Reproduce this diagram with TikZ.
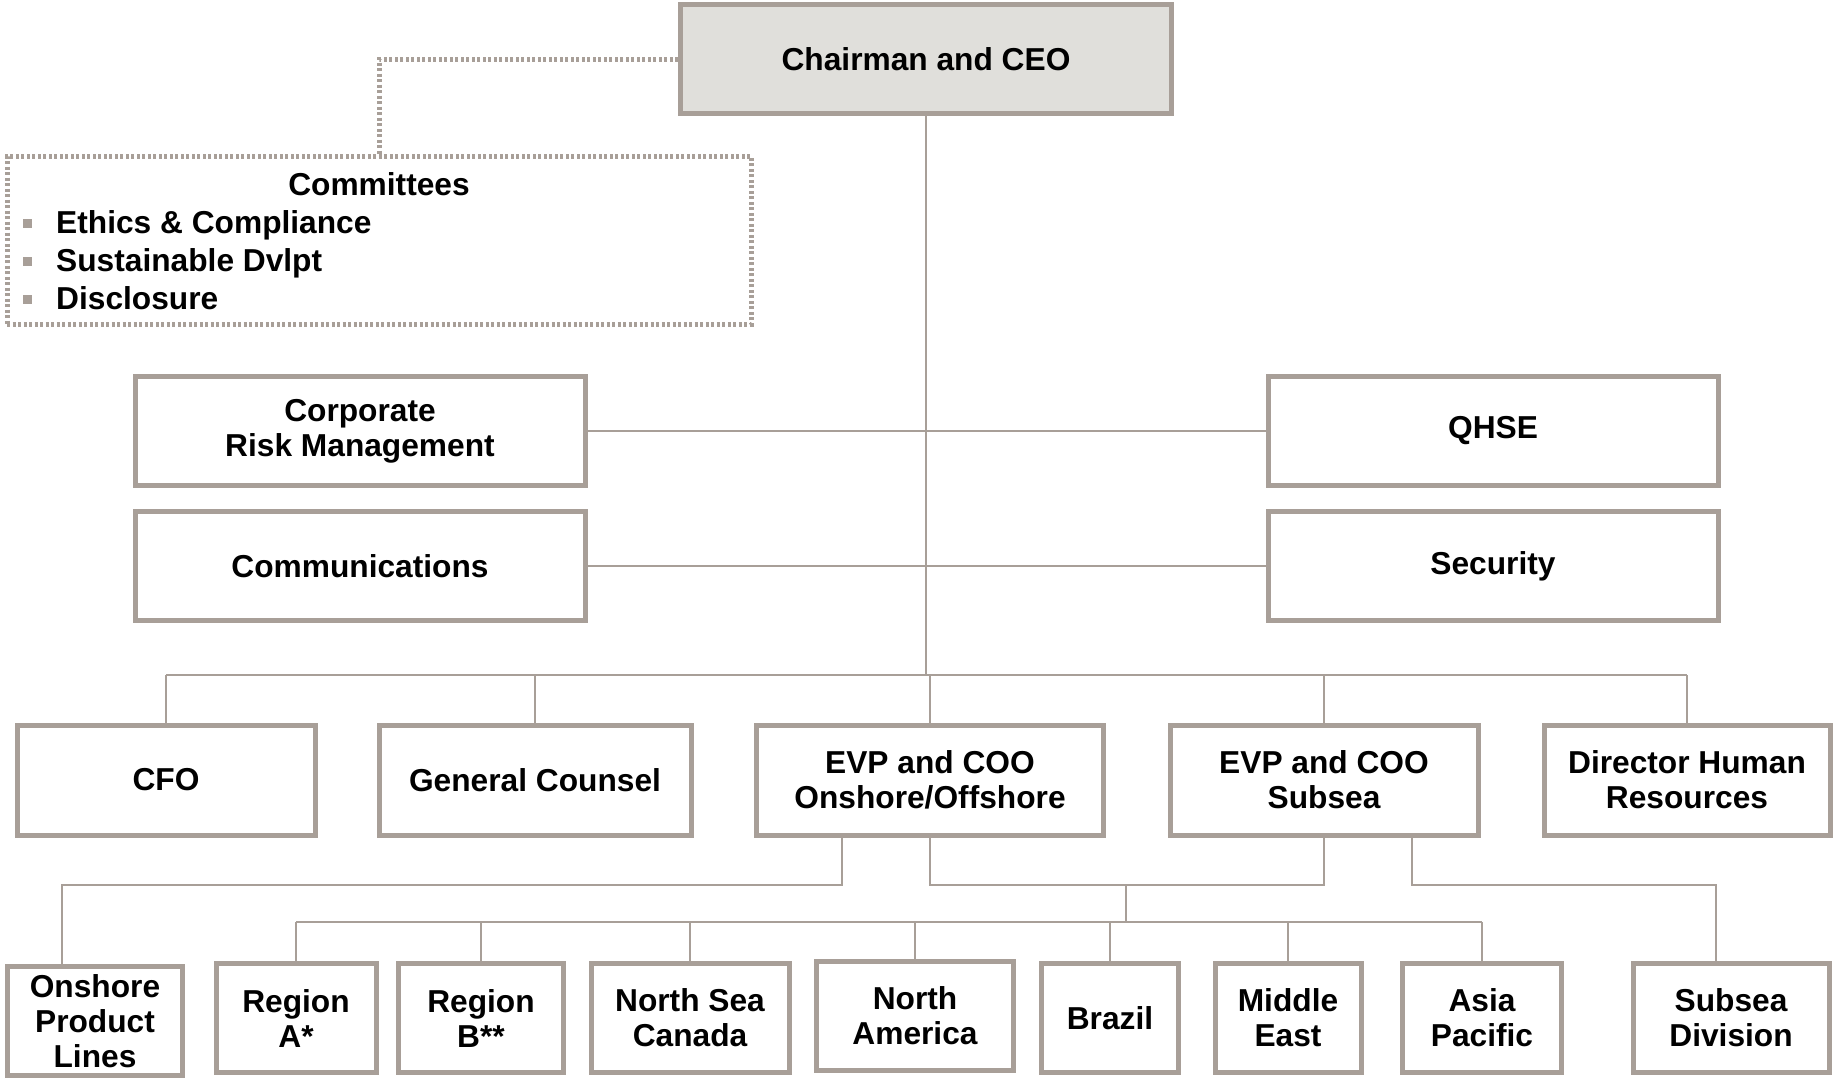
\documentclass[tikz,border=0pt]{standalone}
\usepackage{fontspec}
\setmainfont{Liberation Sans}
\usepackage{tikz}
\usetikzlibrary{calc}

\definecolor{boxgray}{RGB}{168,159,152}
\definecolor{ceofill}{RGB}{224,223,219}
\newcommand{\orgfont}{\fontsize{31.7}{35}\selectfont\bfseries}
\newcommand{\itemsq}{\textcolor{boxgray}{\rule[6pt]{9pt}{9pt}}}

\begin{document}
\begin{tikzpicture}[x=1pt,y=1pt,
		orgbox/.style={draw=boxgray,line width=5pt,fill=white,align=center,font=\orgfont,inner sep=0pt},
		link/.style={draw=boxgray,line width=2.5pt},
		dotlink/.style={draw=boxgray,line width=5pt,dash pattern=on 3pt off 2.5pt}]
				\useasboundingbox (0,0) rectangle (1833,-1080);
				% top
				\node[orgbox,fill=ceofill,minimum width=491,minimum height=109] (ceo) at (926,-59) {Chairman and CEO};
				\node[dotlink,minimum width=744,minimum height=168] (comm) at (379,-240) {};
				\node[font=\orgfont,inner sep=0pt,anchor=base] (commt) at (379,-195) {Committees};
				\node[font=\orgfont,inner sep=0pt,anchor=base west] (c1) at (23,-233.5) {\itemsq\hspace{24pt}Ethics \& Compliance};
				\node[font=\orgfont,inner sep=0pt,anchor=base west] (c2) at (23,-271.5) {\itemsq\hspace{24pt}Sustainable Dvlpt};
				\node[font=\orgfont,inner sep=0pt,anchor=base west] (c3) at (23,-309.5) {\itemsq\hspace{24pt}Disclosure};
				
				% staff
				\node[orgbox,minimum width=450,minimum height=109] (crm) at (360,-431) {Corporate\\Risk Management};
				\node[orgbox,minimum width=450,minimum height=109] (qhse) at (1493,-431) {QHSE};
				\node[orgbox,minimum width=450,minimum height=109] (cmm) at (360,-566) {Communications};
				\node[orgbox,minimum width=450,minimum height=109] (sec) at (1493,-566) {Security};
				
				% second row
				\node[orgbox,minimum width=298,minimum height=110] (cfo) at (166,-780) {CFO};
				\node[orgbox,minimum width=312,minimum height=110] (gc) at (535,-780) {General Counsel};
				\node[orgbox,minimum width=347,minimum height=110] (evp1) at (930,-780) {EVP and COO\\Onshore/Offshore};
				\node[orgbox,minimum width=308,minimum height=110] (evp2) at (1324,-780) {EVP and COO\\Subsea};
				\node[orgbox,minimum width=286,minimum height=110] (dhr) at (1687,-780) {Director Human\\Resources};
				
				% third row
				\node[orgbox,minimum width=175,minimum height=109] (opl) at (95,-1021) {Onshore\\Product\\Lines};
				\node[orgbox,minimum width=160,minimum height=109] (rega) at (296,-1018) {Region\\A*};
				\node[orgbox,minimum width=165,minimum height=109] (regb) at (481,-1018) {Region\\B**};
				\node[orgbox,minimum width=198,minimum height=109] (nsc) at (690,-1018) {North Sea\\Canada};
				\node[orgbox,minimum width=197,minimum height=109] (nam) at (915,-1016) {North\\America};
				\node[orgbox,minimum width=137,minimum height=109] (bra) at (1110,-1018) {Brazil};
				\node[orgbox,minimum width=146,minimum height=109] (mide) at (1288,-1018) {Middle\\East};
				\node[orgbox,minimum width=159,minimum height=109] (asia) at (1482,-1018) {Asia\\Pacific};
				\node[orgbox,minimum width=196,minimum height=109] (subd) at (1731,-1018) {Subsea\\Division};
				
				\coordinate (bus) at (0,-675);
				\coordinate (lk1) at (842,-885);
				\coordinate (lk2) at (62,-885);
				\coordinate (lk3) at (1412,-885);
				\coordinate (lk4) at (1716,-885);
				\coordinate (rmid) at (1126,-885);
				\coordinate (rbus) at (1126,-922);
				
				\draw[dotlink] (ceo.west) -| (comm.north);
				\draw[link] (ceo.south) -- (ceo.south |- bus);
				\draw[link] (crm.east) -- (qhse.west);
				\draw[link] (cmm.east) -- (sec.west);
				\draw[link] (cfo.north |- bus) -- (dhr.north |- bus);
				\foreach \n in {cfo,gc,evp1,evp2,dhr}
					\draw[link] (\n.north) -- (\n.north |- bus);
				\draw[link] (evp1.south -| lk1) -- (lk1) -- (lk2) -- (opl.north -| lk2);
				\draw[link] (evp1.south) |- (evp2.south |- rmid) -- (evp2.south);
				\draw[link] (evp2.south -| lk3) -- (lk3) -- (lk4) -- (subd.north -| lk4);
				\draw[link] (rmid) -- (rbus);
				\draw[link] (rega.north |- rbus) -- (asia.north |- rbus);
				\foreach \n in {rega,regb,nsc,nam,bra,mide,asia}
					\draw[link] (\n.north) -- (\n.north |- rbus);
			\end{tikzpicture}
\end{document}
